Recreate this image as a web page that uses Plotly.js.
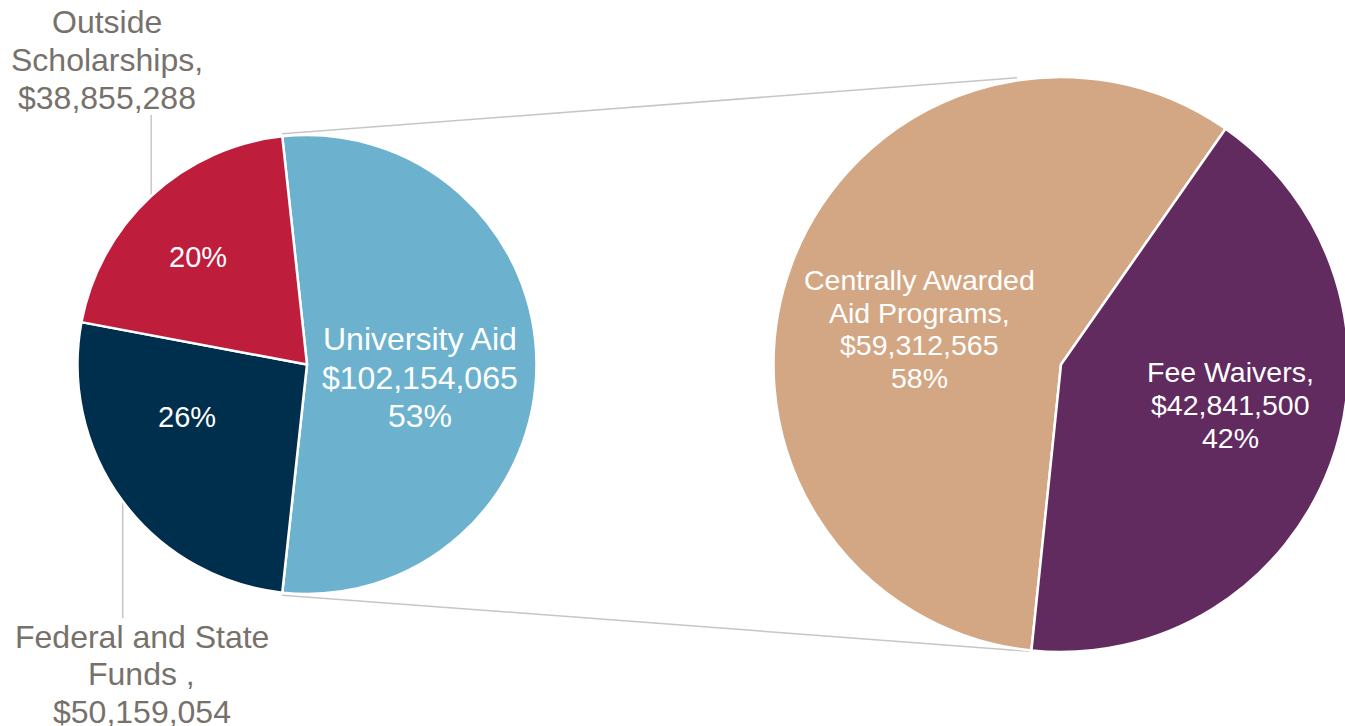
<!DOCTYPE html>
<html><head><meta charset="utf-8">
<script src="https://cdn.plot.ly/plotly-3.0.1.min.js"></script>
<style>html,body{margin:0;padding:0;overflow:hidden;background:#fff}#chart{width:1360px;height:726px}</style>
</head><body><div id="chart"></div>
<script>
// ---- data ----
const mainCategories = ['University Aid', 'Federal and State Funds ', 'Outside Scholarships'];
const mainValues = [102154065, 50159054, 38855288];
const subCategories = ['Centrally Awarded Aid Programs', 'Fee Waivers'];
const subValues = [59312565, 42841500];

// ---- style ----
const mainColors = ['#6cb2ce', '#002e4d', '#be1e3c'];
const subColors = ['#d3a784', '#612b60'];
const FONT = 'Liberation Sans, Arial, sans-serif';
const W = 1360, H = 726;
const L = {cx: 307, cy: 364.5, r: 229.5};
const R = {cx: 1061, cy: 364.5, r: 287.5};
const subStart = 185.9;
const mainLabelShift = [6.8, 13.0, -2.5], mainLabelFrac = [0.494, 0.571, 0.666];
const subLabelShift = [-6.3, -7.0], subLabelFrac = [0.506, 0.606];

const money = v => '$' + v.toLocaleString('en-US');
const pct = (v, arr) => Math.round(100 * v / arr.reduce((a, b) => a + b, 0)) + '%';
const px = x => x / W, py = y => 1 - y / H;
const dom = p => ({x: [px(p.cx - p.r), px(p.cx + p.r)], y: [py(p.cy + p.r), py(p.cy - p.r)]});
const pt = (p, deg, rad) => {
  const a = deg * Math.PI / 180;
  return [p.cx + rad * Math.sin(a), p.cy - rad * Math.cos(a)];
};
function sliceAngles(vals, start) {
  const tot = vals.reduce((a, b) => a + b, 0);
  let cur = start; const out = [];
  vals.forEach(v => { const s = 360 * v / tot; out.push({start: cur, end: cur + s, mid: cur + s / 2}); cur += s; });
  return out;
}
const mainTotal = mainValues.reduce((a, b) => a + b, 0);
const mainStart = 90 - 180 * mainValues[0] / mainTotal;
const mA = sliceAngles(mainValues, mainStart);
const sA = sliceAngles(subValues, subStart);
const wrap = d => ((d + 180) % 360 + 360) % 360 - 180;

const traces = [
  {type: 'pie', labels: mainCategories, values: mainValues, sort: false, direction: 'clockwise',
   rotation: wrap(mainStart), domain: dom(L), textinfo: 'none', hoverinfo: 'label+value+percent',
   marker: {colors: mainColors, line: {color: '#ffffff', width: 2.5}}, showlegend: false},
  {type: 'pie', labels: subCategories, values: subValues, sort: false, direction: 'clockwise',
   rotation: wrap(subStart), domain: dom(R), textinfo: 'none', hoverinfo: 'label+value+percent',
   marker: {colors: subColors, line: {color: '#ffffff', width: 2.5}}, showlegend: false}
];

const ann = [];
const GRAY = '#77716b';
// one annotation per text line so the line spacing matches the reference
function block(cx, cy, lines, size, color, gap) {
  const n = lines.length;
  lines.forEach((t, i) => {
    const y = cy + (i - (n - 1) / 2) * gap;
    ann.push({xref: 'paper', yref: 'paper', x: px(cx), y: py(y), xanchor: 'center', yanchor: 'middle',
              align: 'center', showarrow: false, text: t, font: {family: FONT, size: size, color: color}});
  });
}
function inside(p, ang, shift, frac, lines, size, gap) {
  const [x, y] = pt(p, ang.mid + shift, frac * p.r);
  block(x, y, lines, size, '#ffffff', gap);
}
inside(L, mA[0], mainLabelShift[0], mainLabelFrac[0],
       ['University Aid', money(mainValues[0]), pct(mainValues[0], mainValues)], 32, 38.5);
inside(L, mA[1], mainLabelShift[1], mainLabelFrac[1], [pct(mainValues[1], mainValues)], 29, 38);
inside(L, mA[2], mainLabelShift[2], mainLabelFrac[2], [pct(mainValues[2], mainValues)], 29, 38);
inside(R, sA[0], subLabelShift[0], subLabelFrac[0],
       ['Centrally Awarded', 'Aid Programs,', money(subValues[0]), pct(subValues[0], subValues)], 28.5, 32.7);
inside(R, sA[1], subLabelShift[1], subLabelFrac[1],
       ['Fee Waivers,', money(subValues[1]), pct(subValues[1], subValues)], 28.5, 33);

const shapes = [];
const line = (a, b, color) => shapes.push({type: 'line', xref: 'paper', yref: 'paper', layer: 'below',
  x0: px(a[0]), y0: py(a[1]), x1: px(b[0]), y1: py(b[1]), line: {color: color, width: 1.5}});

// outside labels with leader lines
const eOut = pt(L, mA[2].mid, L.r);
line(eOut, [eOut[0], 115], '#c9c5c1');
block(eOut[0] - 44, 115 - 55, ['Outside', 'Scholarships,', money(mainValues[2])], 32, GRAY, 38);
const eFed = pt(L, mA[1].mid, L.r);
line(eFed, [eFed[0], 618], '#c9c5c1');
block(eFed[0] + 19, 618 + 56, ['Federal and State', 'Funds ,', money(mainValues[1])], 32, GRAY, 37.5);

// connectors between the two pies
line(pt(L, mA[0].start, L.r + 2.5), pt(R, -8.7, R.r + 2.5), '#c6c6c6');
line(pt(L, mA[0].end, L.r + 2.5), pt(R, 186.2, R.r + 1), '#c6c6c6');

Plotly.newPlot('chart', traces, {
  width: W, height: H, margin: {l: 0, r: 0, t: 0, b: 0},
  paper_bgcolor: '#ffffff', plot_bgcolor: '#ffffff',
  font: {family: FONT}, annotations: ann, shapes: shapes, showlegend: false
}, {displayModeBar: false, staticPlot: true});
</script>
</body></html>
